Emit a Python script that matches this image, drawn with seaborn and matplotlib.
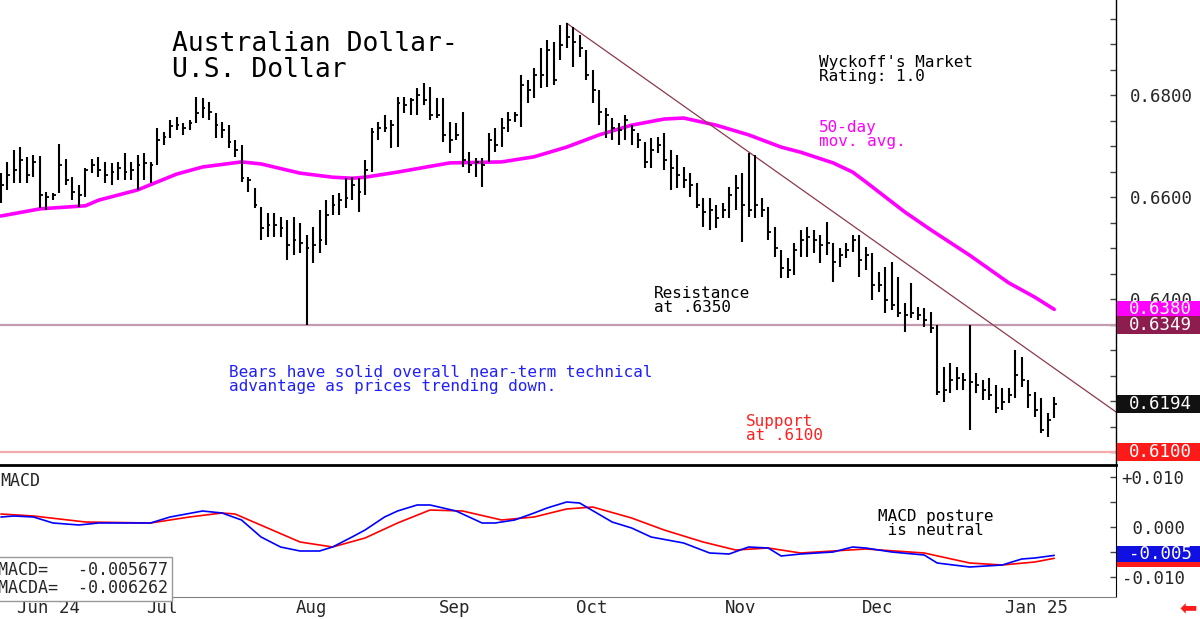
import numpy as np
import pandas as pd
import matplotlib
matplotlib.use('Agg')
import matplotlib.pyplot as plt
import matplotlib.transforms as mtransforms
from matplotlib.patches import Rectangle
from matplotlib.ticker import FixedLocator, MultipleLocator
import seaborn as sns

sns.set_style('white')
plt.rcParams['font.family'] = ['DejaVu Sans Mono', 'DejaVu Sans']

# ---- data ----
start_date = '2024-05-30'

highs = [0.6647, 0.6669, 0.6692, 0.6698, 0.6679, 0.6682, 0.6681, 0.6610, 0.6608, 0.6704,
         0.6675, 0.6639, 0.6624, 0.6657, 0.6675, 0.6679, 0.6669, 0.6667, 0.6669, 0.6686,
         0.6669, 0.6682, 0.6686, 0.6669, 0.6735, 0.6728, 0.6751, 0.6757, 0.6745, 0.6751,
         0.6796, 0.6794, 0.6786, 0.6765, 0.6747, 0.6741, 0.6712, 0.6702, 0.6639, 0.6618,
         0.6581, 0.6569, 0.6569, 0.6561, 0.6555, 0.6561, 0.6549, 0.6526, 0.6541, 0.6575,
         0.6594, 0.6604, 0.6608, 0.6637, 0.6639, 0.6637, 0.6673, 0.6735, 0.6747, 0.6761,
         0.6751, 0.6796, 0.6796, 0.6794, 0.6814, 0.6824, 0.6816, 0.6794, 0.6794, 0.6747,
         0.6745, 0.6767, 0.6688, 0.6677, 0.6677, 0.6726, 0.6735, 0.6755, 0.6767, 0.6767,
         0.6839, 0.6830, 0.6853, 0.6892, 0.6908, 0.6904, 0.6937, 0.6941, 0.6933, 0.6918,
         0.6888, 0.6849, 0.6810, 0.6775, 0.6755, 0.6745, 0.6761, 0.6741, 0.6726, 0.6708,
         0.6716, 0.6718, 0.6726, 0.6692, 0.6682, 0.6659, 0.6647, 0.6628, 0.6598, 0.6598,
         0.6585, 0.6588, 0.6620, 0.6643, 0.6647, 0.6686, 0.6682, 0.6598, 0.6581, 0.6541,
         0.6496, 0.6481, 0.6510, 0.6536, 0.6541, 0.6536, 0.6526, 0.6551, 0.6510, 0.6500,
         0.6510, 0.6526, 0.6526, 0.6502, 0.6490, 0.6453, 0.6463, 0.6473, 0.6443, 0.6392,
         0.6432, 0.6385, 0.6383, 0.6375, 0.6349, 0.6267, 0.6275, 0.6267, 0.6255, 0.6349,
         0.6255, 0.6242, 0.6245, 0.6232, 0.6226, 0.6226, 0.6300, 0.6287, 0.6242, 0.6218,
         0.6206, 0.6177, 0.6208]

lows = [0.6588, 0.6614, 0.6628, 0.6628, 0.6628, 0.6639, 0.6579, 0.6575, 0.6594, 0.6608,
        0.6624, 0.6594, 0.6581, 0.6600, 0.6647, 0.6639, 0.6628, 0.6624, 0.6634, 0.6634,
        0.6634, 0.6614, 0.6634, 0.6628, 0.6663, 0.6702, 0.6716, 0.6731, 0.6722, 0.6731,
        0.6745, 0.6755, 0.6751, 0.6716, 0.6716, 0.6696, 0.6679, 0.6630, 0.6610, 0.6579,
        0.6516, 0.6522, 0.6522, 0.6522, 0.6477, 0.6486, 0.6490, 0.6349, 0.6471, 0.6490,
        0.6506, 0.6565, 0.6565, 0.6579, 0.6594, 0.6571, 0.6604, 0.6649, 0.6712, 0.6728,
        0.6696, 0.6698, 0.6765, 0.6761, 0.6761, 0.6781, 0.6751, 0.6755, 0.6708, 0.6686,
        0.6712, 0.6659, 0.6647, 0.6639, 0.6620, 0.6669, 0.6688, 0.6698, 0.6728, 0.6747,
        0.6737, 0.6784, 0.6794, 0.6814, 0.6816, 0.6820, 0.6869, 0.6892, 0.6855, 0.6875,
        0.6830, 0.6784, 0.6741, 0.6716, 0.6712, 0.6702, 0.6712, 0.6702, 0.6696, 0.6657,
        0.6657, 0.6686, 0.6653, 0.6614, 0.6618, 0.6618, 0.6600, 0.6579, 0.6541, 0.6536,
        0.6539, 0.6559, 0.6559, 0.6575, 0.6512, 0.6561, 0.6559, 0.6561, 0.6516, 0.6483,
        0.6441, 0.6441, 0.6447, 0.6483, 0.6483, 0.6490, 0.6471, 0.6486, 0.6434, 0.6463,
        0.6481, 0.6492, 0.6443, 0.6457, 0.6398, 0.6414, 0.6373, 0.6379, 0.6365, 0.6336,
        0.6363, 0.6359, 0.6345, 0.6334, 0.6212, 0.6198, 0.6216, 0.6222, 0.6222, 0.6143,
        0.6216, 0.6202, 0.6202, 0.6177, 0.6183, 0.6196, 0.6206, 0.6228, 0.6187, 0.6169,
        0.6138, 0.6130, 0.6167]

closes = [0.6624, 0.6643, 0.6653, 0.6673, 0.6643, 0.6669, 0.6604, 0.6600, 0.6604, 0.6663,
          0.6634, 0.6610, 0.6604, 0.6653, 0.6663, 0.6653, 0.6643, 0.6649, 0.6657, 0.6649,
          0.6653, 0.6663, 0.6667, 0.6663, 0.6712, 0.6718, 0.6739, 0.6741, 0.6735, 0.6745,
          0.6765, 0.6775, 0.6767, 0.6741, 0.6731, 0.6708, 0.6692, 0.6637, 0.6634, 0.6585,
          0.6539, 0.6545, 0.6545, 0.6539, 0.6506, 0.6516, 0.6510, 0.6500, 0.6506, 0.6516,
          0.6565, 0.6585, 0.6594, 0.6598, 0.6624, 0.6610, 0.6653, 0.6728, 0.6735, 0.6735,
          0.6741, 0.6784, 0.6781, 0.6790, 0.6800, 0.6790, 0.6761, 0.6761, 0.6722, 0.6712,
          0.6722, 0.6673, 0.6663, 0.6669, 0.6663, 0.6712, 0.6702, 0.6735, 0.6751, 0.6761,
          0.6820, 0.6810, 0.6839, 0.6839, 0.6888, 0.6830, 0.6898, 0.6914, 0.6904, 0.6892,
          0.6839, 0.6810, 0.6767, 0.6761, 0.6735, 0.6731, 0.6751, 0.6731, 0.6712, 0.6669,
          0.6692, 0.6702, 0.6673, 0.6657, 0.6643, 0.6634, 0.6624, 0.6585, 0.6571, 0.6575,
          0.6559, 0.6575, 0.6604, 0.6618, 0.6585, 0.6575, 0.6585, 0.6575, 0.6532, 0.6500,
          0.6461, 0.6457, 0.6496, 0.6516, 0.6522, 0.6516, 0.6506, 0.6510, 0.6473, 0.6486,
          0.6496, 0.6516, 0.6477, 0.6486, 0.6428, 0.6428, 0.6398, 0.6389, 0.6373, 0.6369,
          0.6373, 0.6369, 0.6359, 0.6343, 0.6218, 0.6222, 0.6242, 0.6245, 0.6242, 0.6238,
          0.6232, 0.6222, 0.6212, 0.6187, 0.6198, 0.6212, 0.6251, 0.6242, 0.6212, 0.6183,
          0.6143, 0.6163, 0.6194]

# 50-day moving average, read at these bar numbers
ma_idx = [0, 6, 13, 15, 21, 27, 31, 37, 40, 46, 51, 54, 56, 61, 69, 77, 82, 87, 92, 97,
          102, 105, 110, 115, 120, 123, 128, 131, 133, 139, 143, 149, 155, 159, 162]
ma_val = [0.6563, 0.6577, 0.6583, 0.6594, 0.6614, 0.6645, 0.6659, 0.6669, 0.6665, 0.6647,
          0.6639, 0.6637, 0.6639, 0.6649, 0.6667, 0.6669, 0.6679, 0.6698, 0.6722, 0.6741,
          0.6753, 0.6755, 0.6741, 0.6722, 0.6698, 0.6688, 0.6667, 0.6649, 0.6630, 0.6571,
          0.6536, 0.6486, 0.6432, 0.6404, 0.6380]

macd_idx = [0, 2, 5, 8, 12, 15, 20, 23, 26, 31, 34, 37, 40, 43, 46, 49, 51, 54, 56, 59,
            61, 64, 66, 70, 74, 76, 79, 82, 84, 87, 89, 94, 97, 100, 105, 109, 112, 115,
            118, 120, 123, 128, 131, 133, 137, 142, 144, 149, 154, 157, 159, 162]
macd_val = [0.0020, 0.0022, 0.0020, 0.0008, 0.0004, 0.0008, 0.0008, 0.0008, 0.0020, 0.0032,
            0.0028, 0.0014, -0.0020, -0.0040, -0.0048, -0.0048, -0.0040, -0.0020, -0.0006, 0.0020,
            0.0032, 0.0044, 0.0044, 0.0032, 0.0008, 0.0008, 0.0014, 0.0028, 0.0038, 0.0050,
            0.0048, 0.0010, -0.0002, -0.0020, -0.0032, -0.0052, -0.0054, -0.0040, -0.0042, -0.0058,
            -0.0054, -0.0050, -0.0040, -0.0042, -0.0050, -0.0056, -0.0072, -0.0080, -0.0076, -0.0064,
            -0.0062, -0.005677]

signal_idx = [0, 5, 13, 23, 29, 34, 36, 41, 46, 51, 56, 61, 66, 71, 77, 82, 87, 91, 97,
              102, 108, 113, 118, 123, 133, 142, 149, 154, 159, 162]
signal_val = [0.0026, 0.0022, 0.0010, 0.0008, 0.0020, 0.0028, 0.0026, -0.0002, -0.0030, -0.0040,
              -0.0022, 0.0008, 0.0034, 0.0032, 0.0014, 0.0020, 0.0036, 0.0040, 0.0018, -0.0006,
              -0.0030, -0.0046, -0.0042, -0.0052, -0.0044, -0.0052, -0.0072, -0.0076, -0.0070,
              -0.006262]

trend_idx = [87, 171.5]
trend_val = [0.6941, 0.6179]

resistance = 0.6349
support = 0.6100
last_close = closes[-1]
last_ma = ma_val[-1]
macd_last = macd_val[-1]
macda_last = signal_val[-1]
macd_box_label = '-0.005'

dates = pd.bdate_range(start_date, periods=len(highs))
idx = np.arange(len(highs))

# ---- figure layout (pixel based) ----
W, H = 1200, 619
fig = plt.figure(figsize=(W / 100, H / 100), dpi=100)
ax = fig.add_axes([0, 1 - 465 / H, 1116 / W, 465 / H])
ax2 = fig.add_axes([0, 1 - 597 / H, 1116 / W, 132 / H])

x_lim = (-0.15, 171.5)
ax.set_xlim(*x_lim)
ax2.set_xlim(*x_lim)
ax.set_ylim(0.6075, 0.69863)
ax2.set_ylim(-0.0140, 0.0124)

# ---- price panel ----
ax.axhline(resistance, color='#c49aae', lw=1.6, zorder=1)
ax.axhline(support, color='#f2aaaa', lw=1.6, zorder=1)
ax.vlines(idx, lows, highs, color='black', lw=1.5, zorder=3)
ax.hlines(closes, idx, idx + 0.45, color='black', lw=1.3, zorder=3)
sns.lineplot(x=ma_idx, y=ma_val, ax=ax, color='#ff00ff', lw=2.6, zorder=2)
sns.lineplot(x=trend_idx, y=trend_val, ax=ax, color='#8b3a4a', lw=0.9, zorder=2)

for s in ['top', 'left', 'bottom']:
    ax.spines[s].set_visible(False)
ax.spines['right'].set_color('black')
ax.spines['right'].set_linewidth(1.0)
ax.set_xticks([])
ax.yaxis.tick_right()
ax.yaxis.set_major_locator(FixedLocator([0.62, 0.64, 0.66, 0.68]))
ax.yaxis.set_minor_locator(MultipleLocator(0.005))
ax.yaxis.set_major_formatter(lambda v, p: f'{v:.4f}')
ax.tick_params(axis='y', which='both', direction='in', length=4, width=1,
               color='#444444', labelsize=12.5, pad=10)
ax.set_xlabel('')
ax.set_ylabel('')


def value_box(axis, y, text, color, h):
    trans = mtransforms.blended_transform_factory(axis.transAxes, axis.transData)
    axis.add_patch(Rectangle((1.0 + 1 / 1116, y - h / 2), (W - 1116) / 1116, h,
                             transform=trans, facecolor=color, edgecolor='none',
                             clip_on=False, zorder=5))
    if text:
        axis.text(1.0 + 13 / 1116, y, text, transform=trans, color='white',
                  fontsize=12.5, va='center', ha='left', zorder=6, clip_on=False)


value_box(ax, last_ma, f'{last_ma:.4f}', '#ff00ff', 0.0034)
value_box(ax, resistance, f'{resistance:.4f}', '#8c1d4e', 0.0035)
value_box(ax, last_close, f'{last_close:.4f}', '#111111', 0.0035)
value_box(ax, support, f'{support:.4f}', '#ff1a1a', 0.0035)

# ---- MACD panel ----
sns.lineplot(x=signal_idx, y=signal_val, ax=ax2, color='#ff0000', lw=1.2)
sns.lineplot(x=macd_idx, y=macd_val, ax=ax2, color='#0000ff', lw=1.2)

ax2.spines['left'].set_visible(False)
ax2.spines['top'].set_color('black')
ax2.spines['top'].set_linewidth(2.0)
ax2.spines['right'].set_color('black')
ax2.spines['bottom'].set_color('#808080')
ax2.yaxis.tick_right()
ax2.yaxis.set_major_locator(FixedLocator([-0.01, 0.0, 0.01]))
ax2.yaxis.set_minor_locator(MultipleLocator(0.005))
ax2.set_yticklabels(['-0.010', ' 0.000', '+0.010'])
ax2.tick_params(axis='y', which='both', direction='in', length=4, width=1,
                color='#444444', labelsize=12.5, pad=4)
ax2.set_xlabel('')
ax2.set_ylabel('')

# signal box sits mostly under the MACD box, only its lower edge shows
value_box(ax2, macda_last, '', '#ff1a1a', 0.0033)
value_box(ax2, macd_last + 0.0003, macd_box_label, '#1010e0', 0.0032)

# month separators and labels
month_idx = [i for i in range(1, len(dates)) if dates[i].month != dates[i - 1].month]
month_lbl = []
for k, i in enumerate(month_idx):
    d = dates[i]
    month_lbl.append(d.strftime('%b %y') if (k == 0 or d.month == 1) else d.strftime('%b'))
ax2.set_xticks(month_idx)
ax2.set_xticklabels([])
ax2.tick_params(axis='x', direction='out', length=16, width=1, color='#808080')
trans_x = mtransforms.blended_transform_factory(ax2.transData, ax2.transAxes)
for i, lbl in zip(month_idx, month_lbl):
    ax2.text(i + 0.4, -0.085, lbl, transform=trans_x, fontsize=12.5, va='center',
             ha='left', clip_on=False)

ax2.text(-0.002, 0.0, f'MACD=   {macd_last:.6f}\nMACDA=  {macda_last:.6f}',
         transform=ax2.transAxes, fontsize=12, va='bottom', ha='left', linespacing=1.0,
         bbox=dict(facecolor='white', edgecolor='#999999', boxstyle='square,pad=0.25'),
         zorder=6)
ax2.text(0.0, 0.95, 'MACD', transform=ax2.transAxes, fontsize=12, va='top', ha='left')


# ---- annotations ----
def px_text(x, y, s, size, color='black', **kw):
    fig.text(x / W, 1 - y / H, s, fontsize=size, color=color, va='top', ha='left', **kw)


px_text(172, 31, 'Australian Dollar-\nU.S. Dollar', 19, linespacing=1.0)
px_text(819, 55, "Wyckoff's Market\nRating: 1.0", 11.5, linespacing=0.95)
px_text(819, 120, '50-day\nmov. avg.', 11.5, color='#ff00ff', linespacing=0.95)
px_text(654, 286, 'Resistance\nat .6350', 11.5, linespacing=0.95)
px_text(229, 365, 'Bears have solid overall near-term technical\n'
                  'advantage as prices trending down.', 11.5, color='#2020ff',
        linespacing=0.95)
px_text(746, 414, 'Support\nat .6100', 11.5, color='#ff2020', linespacing=0.95)
px_text(878, 509, 'MACD posture\n is neutral', 11.5, linespacing=0.95)

fig.text(1188 / W, 1 - 609 / H, '\u2b05', color='#ff1a1a', fontsize=15,
         ha='center', va='center', family='DejaVu Sans')

fig.savefig('out.png', dpi=100)
